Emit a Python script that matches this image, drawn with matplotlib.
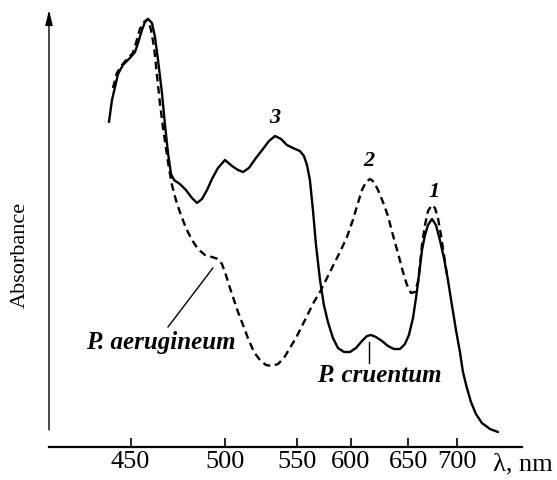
import numpy as np
import matplotlib
matplotlib.use("Agg")
import matplotlib.pyplot as plt
from matplotlib.ticker import NullLocator

plt.rcParams['font.family'] = ['Liberation Serif', 'DejaVu Serif']

# ---- data (wavelength in nm, absorbance in arbitrary units) ----
wl_cruentum = [438.5, 440.1, 441.7, 443.3, 445.9, 449.6, 452.3, 453.9, 456.0, 457.6,
               459.2, 461.3, 462.9, 464.5, 466.6, 468.2, 469.8, 471.4, 473.0, 476.1,
               479.3, 482.5, 485.2, 487.8, 490.5, 493.1, 496.3, 500.0, 504.9, 509.1,
               512.6, 516.7, 521.6, 526.5, 530.7, 534.9, 539.1, 543.2, 547.4, 553.0,
               556.7, 559.5, 562.2, 565.0, 567.8, 571.5, 575.1, 578.8, 583.4, 588.0,
               593.6, 599.1, 604.4, 609.6, 614.0, 617.5, 621.8, 627.1, 632.3, 637.5,
               642.8, 647.1, 650.7, 654.9, 658.0, 661.1, 664.2, 667.3, 670.4, 674.5,
               678.6, 682.7, 686.9, 691.0, 695.1, 699.3, 703.4, 706.5, 710.6, 714.8,
               719.9, 726.1, 734.4, 742.7]
abs_cruentum = [3.25, 3.47, 3.60, 3.73, 3.82, 3.89, 3.95, 4.04, 4.17, 4.25,
                4.28, 4.24, 4.10, 3.87, 3.54, 3.22, 2.94, 2.73, 2.67, 2.63,
                2.57, 2.49, 2.44, 2.48, 2.57, 2.68, 2.79, 2.87, 2.81, 2.77,
                2.75, 2.79, 2.89, 2.98, 3.06, 3.11, 3.08, 3.02, 2.99, 2.96,
                2.91, 2.82, 2.67, 2.37, 2.02, 1.67, 1.42, 1.25, 1.09, 0.99,
                0.95, 0.95, 0.99, 1.06, 1.11, 1.12, 1.10, 1.06, 1.01, 0.98,
                0.98, 1.03, 1.12, 1.29, 1.49, 1.72, 1.97, 2.12, 2.22, 2.28,
                2.22, 2.07, 1.89, 1.67, 1.42, 1.17, 0.95, 0.75, 0.59, 0.45,
                0.33, 0.24, 0.18, 0.15]

wl_aerugineum = [440.6, 442.7, 445.4, 448.6, 451.2, 452.8, 454.9, 457.1, 459.2, 460.8,
                 462.4, 463.4, 464.5, 465.5, 467.1, 468.7, 470.3, 471.9, 474.0, 476.1,
                 479.3, 482.5, 485.7, 489.4, 493.1, 496.3, 498.4, 500.7, 503.5, 506.3,
                 509.1, 512.6, 516.0, 520.2, 524.4, 528.6, 532.8, 537.0, 541.1, 545.3,
                 549.5, 554.9, 560.4, 565.9, 571.5, 577.0, 583.4, 589.9, 596.3, 601.7,
                 606.1, 609.6, 613.1, 616.6, 620.1, 623.6, 627.9, 632.3, 636.6, 641.0,
                 645.4, 648.9, 652.8, 656.9, 660.0, 662.1, 664.2, 667.3, 670.4, 674.5,
                 677.6, 680.7, 683.8, 686.9, 690.0]
abs_aerugineum = [3.59, 3.74, 3.82, 3.89, 3.94, 4.04, 4.18, 4.25, 4.28, 4.17,
                  4.00, 3.82, 3.62, 3.44, 3.20, 2.99, 2.79, 2.62, 2.47, 2.35,
                  2.19, 2.07, 1.98, 1.92, 1.90, 1.88, 1.83, 1.72, 1.59, 1.47,
                  1.35, 1.22, 1.09, 0.95, 0.87, 0.82, 0.81, 0.83, 0.89, 0.99,
                  1.09, 1.21, 1.33, 1.45, 1.55, 1.67, 1.81, 1.95, 2.10, 2.27,
                  2.44, 2.57, 2.65, 2.68, 2.65, 2.57, 2.45, 2.31, 2.12, 1.94,
                  1.75, 1.62, 1.54, 1.55, 1.65, 1.82, 2.02, 2.22, 2.36, 2.42,
                  2.39, 2.29, 2.12, 1.92, 1.72]

tick_wl = [450, 500, 550, 600, 650, 700]
tick_labels = ['450', '500', '550', '600', '650', '700']

# ---- non-uniform wavelength axis as drawn in the original figure ----
LAM_KNOTS = [0.0, 450.0, 500.0, 550.0, 600.0, 650.0, 700.0, 2000.0]
POS_KNOTS = [-718.0, 130.7, 225.0, 296.7, 351.0, 408.3, 456.7, 1715.1]


def fwd(x):
    return np.interp(x, LAM_KNOTS, POS_KNOTS)


def inv(p):
    return np.interp(p, POS_KNOTS, LAM_KNOTS)


fig = plt.figure(figsize=(5.57, 4.8), dpi=100)
ax = fig.add_axes([49 / 557, 33 / 480, (521.7 - 49) / 557, 437 / 480])
ax.set_xscale('function', functions=(fwd, inv))

ax.plot(wl_cruentum, abs_cruentum, color='black', lw=1.7,
        solid_joinstyle='round', solid_capstyle='round')
ax.plot(wl_aerugineum, abs_aerugineum, color='black', lw=1.7,
        dashes=(3.2, 2.0))

ax.set_xlim(406.7, 767.2)
ax.set_ylim(0, 4.37)
ax.set_xticks(tick_wl)
ax.set_xticklabels(tick_labels)
ax.xaxis.set_minor_locator(NullLocator())
ax.set_yticks([])
for s in ('top', 'right', 'left'):
    ax.spines[s].set_visible(False)
ax.spines['bottom'].set_linewidth(1.6)
ax.tick_params(axis='x', direction='in', length=6.5, width=1.2,
               labelsize=19, pad=3)

# y axis arrow
ax.annotate('', xy=(0, 1), xycoords='axes fraction',
            xytext=(0, 0.039), textcoords='axes fraction',
            arrowprops=dict(arrowstyle='-|>,head_length=0.9,head_width=0.22',
                            lw=1.0, color='black', shrinkA=0, shrinkB=0))

fig.text(20 / 557, 1 - 255 / 480, 'Absorbance', rotation=90,
         va='center', ha='center', fontsize=16)
fig.text(493 / 557, 1 - 464 / 480, 'λ, nm', ha='left', va='center', fontsize=19)

# curve labels
lab = dict(style='italic', fontweight='bold', fontsize=16, ha='center', va='center')
ax.text(534.9, 3.29, '3', **lab)
ax.text(615.7, 2.86, '2', **lab)
ax.text(676.6, 2.55, '1', **lab)

sp = dict(style='italic', fontweight='bold', fontsize=18, ha='center', va='center')
ax.text(466.1, 1.05, 'P. aerugineum', **sp)
ax.plot([469.8, 493.6], [1.20, 1.79], color='black', lw=1.0)

ax.text(624.4, 0.72, 'P. cruentum', **sp)
ax.plot([615.7, 615.7], [0.84, 1.05], color='black', lw=1.0)

fig.savefig('out.png', dpi=100)
